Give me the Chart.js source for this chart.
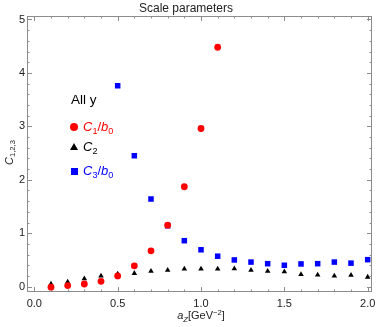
<!DOCTYPE html>
<html>
<head>
<meta charset="utf-8">
<script src="https://cdn.jsdelivr.net/npm/chart.js@4.4.1/dist/chart.umd.min.js"></script>
<style>
  body { margin: 0; background: #fff; }
  #wrap { position: relative; width: 376px; height: 327px; font-family: "Liberation Sans", Arial, sans-serif; }
  .txt { position: absolute; white-space: nowrap; line-height: 1; }
  .txt i { font-style: italic; }
  .txt sub { font-size: 70%; vertical-align: -0.3em; font-style: normal; }
  .txt sup { font-size: 70%; vertical-align: 0.55em; }
  .mk { position: absolute; }
</style>
</head>
<body>
<div id="wrap">
  <canvas id="chart" width="376" height="327"></canvas>

  <div class="txt" style="left:71px;top:93px;font-size:13.5px;color:#000">All y</div>

  <div class="mk" style="left:70px;top:123px;width:8px;height:8px;border-radius:50%;background:#f00"></div>
  <div class="txt" style="left:83px;top:120px;font-size:13px;color:#f00"><i>C</i><sub>1</sub>/<i>b</i><sub>0</sub></div>

  <div class="mk" style="left:70px;top:143px;width:0;height:0;border-left:4px solid transparent;border-right:4px solid transparent;border-bottom:7px solid #000"></div>
  <div class="txt" style="left:83px;top:140px;font-size:13px;color:#000"><i>C</i><sub>2</sub></div>

  <div class="mk" style="left:70.5px;top:167.5px;width:7px;height:7px;background:#00f"></div>
  <div class="txt" style="left:83px;top:164px;font-size:13px;color:#00f"><i>C</i><sub>3</sub>/<i>b</i><sub>0</sub></div>

  <div class="txt" style="left:-6px;top:146px;width:32px;text-align:center;font-size:11px;color:#222;transform:rotate(-90deg)"><i>C</i><sub>1,2,3</sub></div>
  <div class="txt" style="left:150px;top:309px;width:102px;text-align:center;font-size:11px;color:#222"><i>a</i><sub><i>Z</i></sub>[GeV<sup>&minus;2</sup>]</div>
</div>

<script>
// a_Z values (GeV^-2)
const aZ = [0.1, 0.2, 0.3, 0.4, 0.5, 0.6, 0.7, 0.8, 0.9, 1.0,
            1.1, 1.2, 1.3, 1.4, 1.5, 1.6, 1.7, 1.8, 1.9, 2.0];
// C1/b0 only shown up to a_Z = 1.1
const c1 = [-0.01, 0.02, 0.05, 0.10, 0.20, 0.39, 0.67, 1.15, 1.87, 2.96, 4.48];
const c2 = [0.05, 0.09, 0.15, 0.20, 0.24, 0.25, 0.29, 0.31, 0.33, 0.33,
            0.33, 0.335, 0.31, 0.29, 0.28, 0.23, 0.22, 0.20, 0.215, 0.18];
// C3/b0 starts at a_Z = 0.5
const c3Start = 4;
const c3 = [3.76, 2.45, 1.64, 1.14, 0.86, 0.69, 0.57, 0.50, 0.46, 0.43,
            0.40, 0.425, 0.43, 0.46, 0.44, 0.505];

const xMajor = [0, 0.5, 1.0, 1.5, 2.0];
const yMajor = [0, 1, 2, 3, 4, 5];

function pts(vals, offset) {
    return vals.map(function(v, i) { return { x: aZ[i + offset], y: v }; });
}

// frame with inward ticks on all four sides, Mathematica style
const framePlugin = {
    id: 'frame',
    beforeDatasetsDraw(chart) {
        const ctx = chart.ctx;
        const a = chart.chartArea;
        const xs = chart.scales.x, ys = chart.scales.y;
        ctx.save();
        ctx.strokeStyle = '#8c8c8c';
        ctx.lineWidth = 1;
        ctx.strokeRect(a.left + 0.5, a.top + 0.5, a.right - a.left - 1, a.bottom - a.top - 1);
        ctx.beginPath();
        for (let i = 0; i <= 20; i++) {
            const v = i / 10;
            const px = Math.round(xs.getPixelForValue(v)) + 0.5;
            const len = (i % 5 === 0) ? 5 : 2.5;
            ctx.moveTo(px, a.bottom); ctx.lineTo(px, a.bottom - len);
            ctx.moveTo(px, a.top); ctx.lineTo(px, a.top + len);
        }
        for (let i = 0; i <= 25; i++) {
            const v = i / 5;
            const py = Math.round(ys.getPixelForValue(v)) + 0.5;
            const len = (i % 5 === 0) ? 5 : 2.5;
            ctx.moveTo(a.left, py); ctx.lineTo(a.left + len, py);
            ctx.moveTo(a.right, py); ctx.lineTo(a.right - len, py);
        }
        ctx.stroke();
        ctx.restore();
    }
};

const ctx = document.getElementById('chart').getContext('2d');
const myChart = new Chart(ctx, {
    type: 'scatter',
    data: {
        datasets: [{
            label: 'C1/b0',
            data: pts(c1, 0),
            pointStyle: 'circle',
            pointRadius: 3.4,
            backgroundColor: '#ff0000',
            borderWidth: 0
        }, {
            label: 'C2',
            data: pts(c2, 0),
            pointStyle: 'triangle',
            pointRadius: 3.2,
            backgroundColor: '#000000',
            borderWidth: 0
        }, {
            label: 'C3/b0',
            data: pts(c3, c3Start),
            pointStyle: 'rect',
            pointRadius: 3.9,
            backgroundColor: '#0000ff',
            borderWidth: 0
        }]
    },
    options: {
        responsive: false,
        animation: false,
        layout: { padding: { left: 0, right: 4, top: 0, bottom: 0 } },
        plugins: {
            legend: { display: false },
            tooltip: { enabled: false },
            title: {
                display: true,
                text: 'Scale parameters',
                color: '#222',
                font: { family: '"Liberation Sans", Arial, sans-serif', size: 12, weight: 'normal' },
                padding: { top: 1, bottom: 0.6 }
            }
        },
        scales: {
            x: {
                type: 'linear',
                min: -0.044,
                max: 2.026,
                afterBuildTicks: function(s) { s.ticks = xMajor.map(function(v) { return { value: v }; }); },
                afterFit: function(s) { s.height = 35; s.paddingLeft = 0; s.paddingRight = 0; },
                grid: { display: false, drawTicks: false },
                border: { display: false },
                ticks: {
                    padding: 5,
                    color: '#222',
                    font: { family: '"Liberation Sans", Arial, sans-serif', size: 11 },
                    maxRotation: 0,
                    callback: function(v) { return v.toFixed(1); }
                }
            },
            y: {
                type: 'linear',
                min: -0.1,
                max: 5.065,
                afterBuildTicks: function(s) { s.ticks = yMajor.map(function(v) { return { value: v }; }); },
                afterFit: function(s) { s.width = 27; s.paddingTop = 0; s.paddingBottom = 0; },
                grid: { display: false, drawTicks: false },
                border: { display: false },
                ticks: {
                    padding: 2,
                    color: '#222',
                    font: { family: '"Liberation Sans", Arial, sans-serif', size: 11 },
                    callback: function(v) { return String(v); }
                }
            }
        }
    },
    plugins: [framePlugin]
});
</script>
</body>
</html>
